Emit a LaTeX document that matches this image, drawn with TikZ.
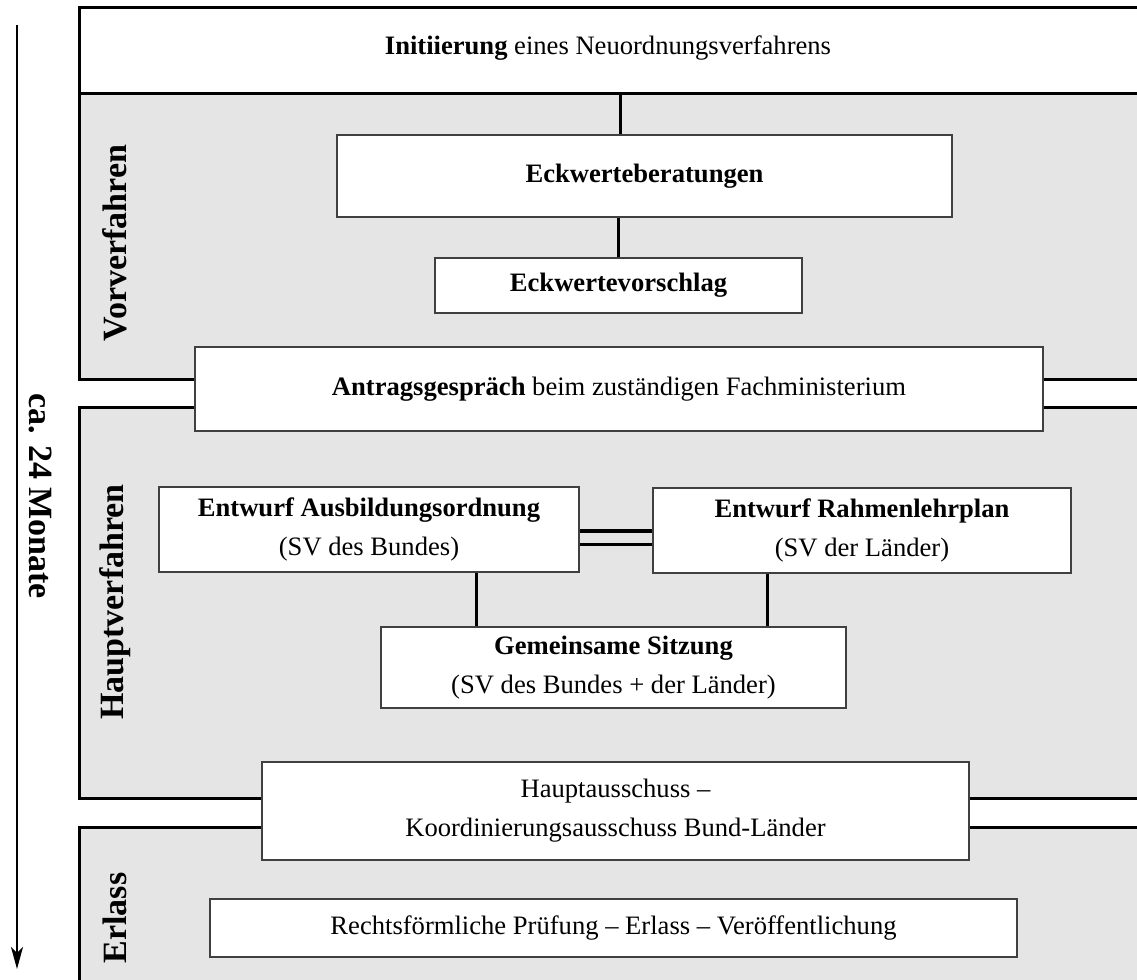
\documentclass[tikz,border=0pt]{standalone}
\usepackage{fontspec}
\setmainfont{Liberation Serif}
\usetikzlibrary{arrows, arrows.meta, calc}

\definecolor{phasegray}{gray}{0.9}

\begin{document}
\begin{tikzpicture}[x=0.5pt, y=-0.5pt, >=stealth', semithick,
		box/.style={draw=black!75, line width=0.75pt, fill=white, inner sep=0pt, align=center, font=\fontsize{13.3}{19.5}\selectfont},
		phase/.style={draw=black, line width=1.5pt},
		conn/.style={draw=black, line width=1.5pt},
		phaselabel/.style={rotate=90, font=\fontsize{17}{20}\selectfont\bfseries}]
		\useasboundingbox (0,0) rectangle (1137,980);
		\clip (0,0) rectangle (1137,980);

		% phases
		\draw[phase, fill=white] (1160,7) -- (79,7) -- (79,93) -- (1160,93);
		\draw[phase, fill=phasegray] (1160,93) -- (79,93) -- (79,379) -- (1160,379);
		\draw[phase, fill=phasegray] (1160,407) -- (79,407) -- (79,798) -- (1160,798);
		\fill[phasegray] (79,827) rectangle (1160,1000);
		\draw[phase] (1160,827) -- (79,827) -- (79,1000);

		\node[font=\fontsize{13.3}{16}\selectfont] (init) at (608,48) {\textbf{Initiierung} eines Neuordnungsverfahrens};
		\node[phaselabel] (vor) at (115,243) {Vorverfahren};
		\node[phaselabel] (haupt) at (115,602) {Hauptverfahren};
		\node[phaselabel] (erl) at (115,918) {Erlass};

		% time axis
		\coordinate (tstart) at (17,25);
		\coordinate (tend) at (17,969);
		\draw[-{Stealth[length=11pt, width=6pt, inset=3pt]}, line width=1pt] (tstart) -- (tend);
		\node[rotate=-90, font=\fontsize{17}{20}\selectfont\bfseries] (dur) at (41,496) {ca. 24 Monate};

		% boxes
		\node[box, minimum width=307.5pt, minimum height=41pt] (eckb) at (644.5,176) {\textbf{Eckwerteberatungen}};
		\node[box, minimum width=183.5pt, minimum height=27.5pt] (eckv) at (618.5,285.5) {\textbf{Eckwertevorschlag}};
		\node[box, minimum width=424pt, minimum height=42pt] (antr) at (619,389) {\textbf{Antragsgespräch} beim zuständigen Fachministerium};
		\node[box, minimum width=210pt, minimum height=42.5pt] (ao) at (369,529.5) {\textbf{Entwurf Ausbildungsordnung}\\(SV des Bundes)};
		\node[box, minimum width=209pt, minimum height=42.5pt] (rlp) at (862,530.5) {\textbf{Entwurf Rahmenlehrplan}\\(SV der Länder)};
		\node[box, minimum width=232.5pt, minimum height=40.5pt] (sitz) at (613.5,667.5) {\textbf{Gemeinsame Sitzung}\\(SV des Bundes + der Länder)};
		\node[box, minimum width=353.5pt, minimum height=49pt] (hauptaus) at (615.5,811) {Hauptausschuss --\\Koordinierungsausschuss Bund-Länder};
		\node[box, minimum width=403.5pt, minimum height=29pt] (recht) at (613.5,928) {Rechtsförmliche Prüfung -- Erlass -- Veröffentlichung};

		% connectors
		\coordinate (initbot) at (620,93);
		\draw[conn] (initbot) -- (initbot |- eckb.north);
		\draw[conn] (eckv.north) -- (eckv.north |- eckb.south);
		\draw[conn, double=phasegray, double distance=5pt, line width=1.6pt] ($(ao.east)+(0,8)$) -- ($(rlp.west)+(0,7)$);
		\draw[conn] ($(ao.south)+(107,0)$) -- ($(sitz.north)+(-137.5,0)$);
		\draw[conn] ($(rlp.south)+(-95,0)$) -- ($(sitz.north)+(153.5,0)$);
\end{tikzpicture}
\end{document}
